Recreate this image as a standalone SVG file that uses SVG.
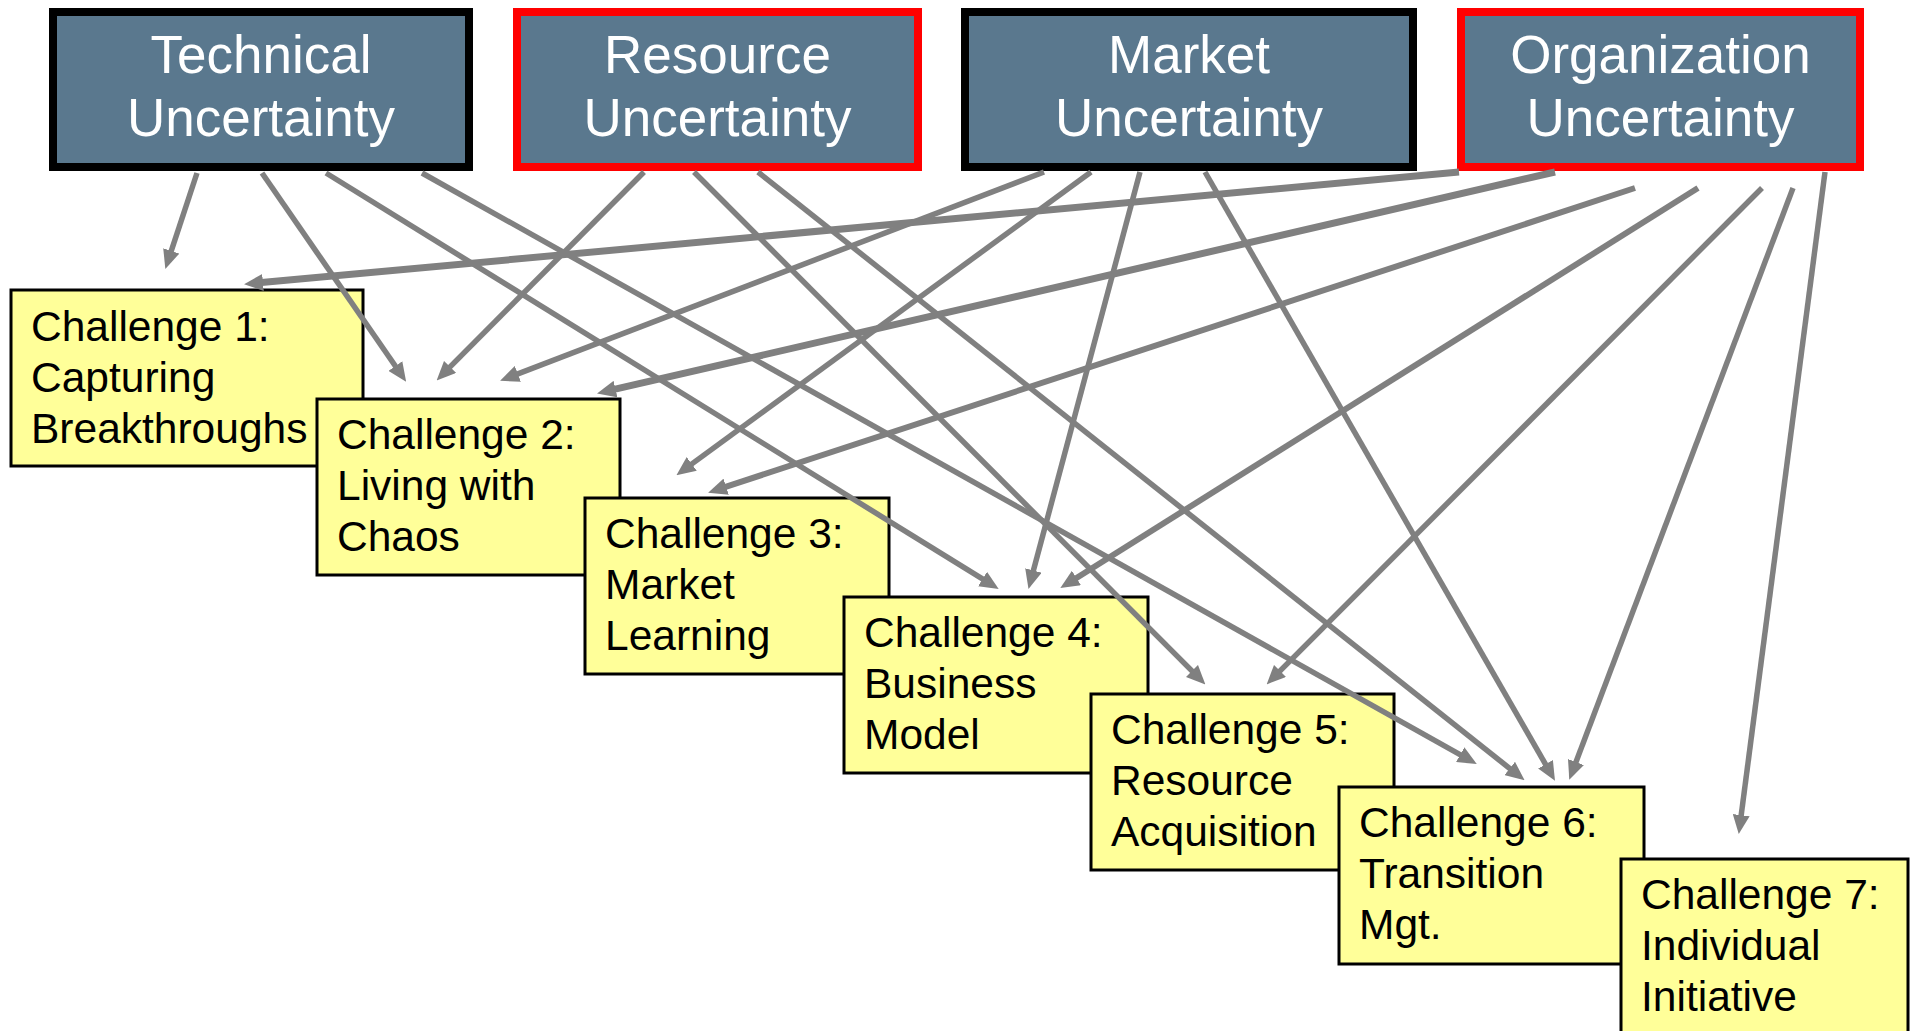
<svg xmlns="http://www.w3.org/2000/svg" width="1918" height="1031" viewBox="0 0 1918 1031">
<style>
.unc rect{fill:#5A788E;stroke-width:8}
.blk rect{stroke:#000}
.red rect{stroke:#FF0000}
.unc text{font-family:"Liberation Sans",Arial,sans-serif;font-size:53px;fill:#fff;text-anchor:middle}
.ch rect{fill:#FFFF99;stroke:#000;stroke-width:3}
.ch text{font-family:"Liberation Sans",Arial,sans-serif;font-size:42.5px;fill:#000}
#connectors line{stroke:#808080;stroke-width:5.5;marker-end:url(#ah)}
#connectors line.thick{stroke-width:7}
#connectors line.mid{stroke-width:6}
</style>
<defs>
<marker id="ah" markerUnits="userSpaceOnUse" markerWidth="19" markerHeight="17" refX="7" refY="8.5" orient="auto">
<path d="M0,0 L19,8.5 L0,17 z" fill="#808080"/>
</marker>
</defs>
<rect width="1918" height="1031" fill="#fff"/>
<g id="technical" class="unc blk"><rect x="53" y="12" width="416" height="155"/><text x="261" y="73">Technical</text><text x="261" y="136">Uncertainty</text></g>
<g id="resource" class="unc red"><rect x="517" y="12" width="401" height="155"/><text x="717.5" y="73">Resource</text><text x="717.5" y="136">Uncertainty</text></g>
<g id="market" class="unc blk"><rect x="965" y="12" width="448" height="155"/><text x="1189" y="73">Market</text><text x="1189" y="136">Uncertainty</text></g>
<g id="organization" class="unc red"><rect x="1461" y="12" width="399" height="155"/><text x="1660.5" y="73">Organization</text><text x="1660.5" y="136">Uncertainty</text></g>
<g id="c1" class="ch"><rect x="11" y="290" width="352" height="176"/><text x="31" y="341">Challenge 1:</text><text x="31" y="392">Capturing</text><text x="31" y="443">Breakthroughs</text></g>
<g id="c2" class="ch"><rect x="317" y="399" width="303" height="176"/><text x="337" y="449">Challenge 2:</text><text x="337" y="500">Living with</text><text x="337" y="551">Chaos</text></g>
<g id="c3" class="ch"><rect x="585" y="498" width="304" height="176"/><text x="605" y="548">Challenge 3:</text><text x="605" y="599">Market</text><text x="605" y="650">Learning</text></g>
<g id="c4" class="ch"><rect x="844" y="597" width="304" height="176"/><text x="864" y="647">Challenge 4:</text><text x="864" y="698">Business</text><text x="864" y="749">Model</text></g>
<g id="c5" class="ch"><rect x="1091" y="694" width="303" height="176"/><text x="1111" y="744">Challenge 5:</text><text x="1111" y="795">Resource</text><text x="1111" y="846">Acquisition</text></g>
<g id="c6" class="ch"><rect x="1339" y="787" width="305" height="177"/><text x="1359" y="837">Challenge 6:</text><text x="1359" y="888">Transition</text><text x="1359" y="939">Mgt.</text></g>
<g id="c7" class="ch"><rect x="1621" y="859" width="287" height="200"/><text x="1641" y="909">Challenge 7:</text><text x="1641" y="960">Individual</text><text x="1641" y="1011">Initiative</text></g>
<g id="connectors">
<line x1="197" y1="173" x2="169.1" y2="257.5"/>
<line x1="262" y1="173" x2="399.3" y2="371.8"/>
<line x1="326" y1="173" x2="988.5" y2="582.7"/>
<line x1="422" y1="173" x2="1466.3" y2="758.1"/>
<line x1="644" y1="172" x2="445.1" y2="371.9"/>
<line x1="694" y1="172" x2="1196.9" y2="675.9"/>
<line x1="758" y1="172" x2="1515.2" y2="772.8"/>
<line x1="1044" y1="172" x2="511.3" y2="376.4"/>
<line x1="1091" y1="172" x2="686.1" y2="468.1"/>
<line x1="1140" y1="172" x2="1031.6" y2="577.3"/>
<line x1="1205" y1="172" x2="1549" y2="770.3"/>
<line class="thick" x1="1459" y1="172" x2="256" y2="283.1"/>
<line class="thick" x1="1555" y1="172" x2="608.7" y2="390.7"/>
<line class="mid" x1="1635" y1="188" x2="719.5" y2="488.9"/>
<line class="mid" x1="1698" y1="188" x2="1070.5" y2="581.7"/>
<line x1="1762" y1="188" x2="1275.1" y2="675.9"/>
<line x1="1793" y1="188" x2="1573.5" y2="768.6"/>
<line x1="1825" y1="172" x2="1740.3" y2="822.1"/>
</g>
</svg>
